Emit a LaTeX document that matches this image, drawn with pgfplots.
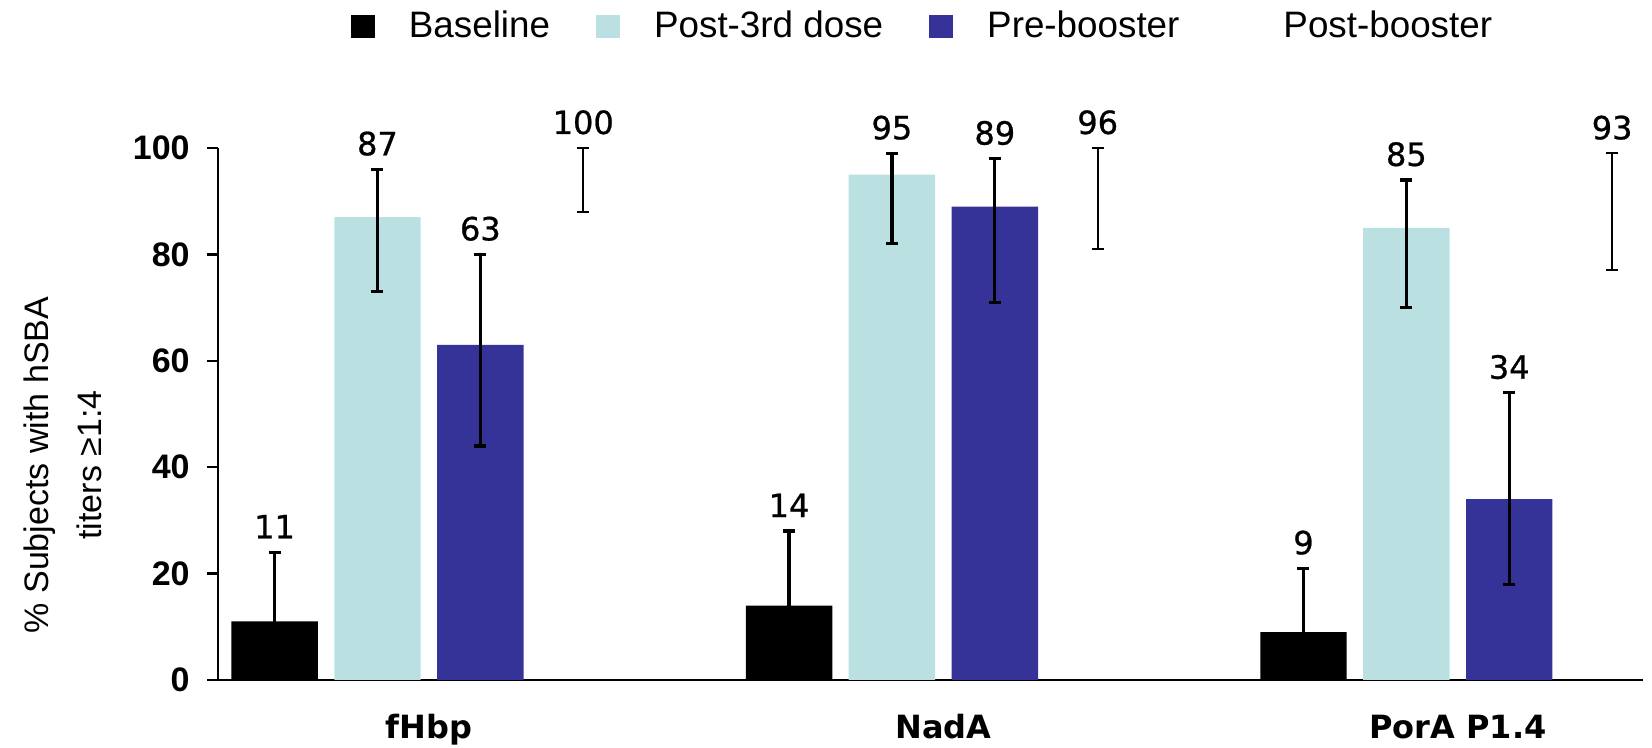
\documentclass[border=0pt]{standalone}
\usepackage{fontspec}
\setmainfont{Liberation Sans}
\newfontfamily\dejavu{DejaVu Sans}
\newfontfamily\dejavumid[FakeBold=0.8]{DejaVu Sans}
\usepackage{pgfplots}
\usepackage{pgfplotstable}
\pgfplotsset{compat=1.18}
\definecolor{lightc}{RGB}{186,224,226}
\definecolor{bluec}{RGB}{53,51,151}

\pgfplotstableread{
x y ep em
0 11 13 7
1 14 14 8
2 9 12 6
}\baselinetab
\pgfplotstableread{
x y ep em
0 87 9 14
1 95 4 13
2 85 9 15
}\postthird
\pgfplotstableread{
x y ep em
0 63 17 19
1 89 9 18
2 34 20 16
}\prebooster
\pgfplotstableread{
x y ep em
0 100 0 12
1 96 4 15
2 93 6 16
}\postbooster

\begin{document}
\begin{tikzpicture}
\begin{axis}[
  at={(0,0)}, anchor=south west,
  scale only axis, width=712.5pt, height=266pt,
  xmin=-0.41, xmax=2.36, ymin=0, ymax=100,
  enlargelimits=false, clip=false,
  axis x line=bottom, axis y line=left,
  axis line style={-, line width=1.2pt, black},
  xtick={0,1,2}, xticklabels={fHbp,NadA,PorA P1.4},
  x tick style={draw=none},
  ytick={0,20,40,60,80,100},
  y tick style={line width=1.2pt, black},
  tick align=outside, major tick length=5.5pt,
  /pgf/number format/assume math mode=true,
  yticklabel style={font=\fontsize{17}{17}\selectfont\bfseries, anchor=east, inner sep=0pt, xshift=-8.5pt},
  xticklabel style={font=\dejavu\bfseries\fontsize{16}{16}\selectfont, anchor=base, inner sep=0pt, yshift=-23.5pt},
  ylabel={\% Subjects with hSBA\\titers ≥1:4},
  ylabel style={at={(axis description cs:-0.1088,0.404)}, anchor=center, align=center, font=\fontsize{17}{26.5}\selectfont},
  bar width=0.168,
  legend columns=4,
  legend style={at={(axis description cs:0.4937,1.229)}, anchor=center, draw=none, fill=none,
    font=\fontsize{18.4}{18.4}\selectfont, nodes={inner sep=0pt},
    /tikz/every odd column/.append style={column sep=17pt},
    /tikz/every even column/.append style={column sep=23pt}},
  legend image code/.code={\path[#1, draw=none] (0pt,-5.75pt) rectangle (12pt,5.75pt);},
  every node near coord/.append style={font=\dejavumid\fontsize{16}{16}\selectfont, anchor=base, yshift=7pt, inner sep=0pt, black},
  error bars/error bar style={line width=1.6pt, black},
  error bars/error mark options={rotate=90, black, mark size=3pt, line width=1.6pt},
]
\addplot[ybar, bar shift=0pt, fill=black, draw=none,
  error bars/.cd, y dir=both, y explicit]
  table[x expr=\thisrow{x}-0.3, y=y, y error plus=ep, y error minus=em] {\baselinetab};
\addlegendentry{Baseline}
\addplot[ybar, bar shift=0pt, fill=lightc, draw=none,
  error bars/.cd, y dir=both, y explicit]
  table[x expr=\thisrow{x}-0.1, y=y, y error plus=ep, y error minus=em] {\postthird};
\addlegendentry{Post-3rd dose}
\addplot[ybar, bar shift=0pt, fill=bluec, draw=none,
  error bars/.cd, y dir=both, y explicit]
  table[x expr=\thisrow{x}+0.1, y=y, y error plus=ep, y error minus=em] {\prebooster};
\addlegendentry{Pre-booster}
\addplot[ybar, bar shift=0pt, fill=none, draw=none,
  error bars/.cd, y dir=both, y explicit,
  error bar style={line width=1pt, black},
  error mark options={rotate=90, black, mark size=3pt, line width=1pt}]
  table[x expr=\thisrow{x}+0.3, y=y, y error plus=ep, y error minus=em] {\postbooster};
\addlegendentry{Post-booster}

\addplot[draw=none, mark=none, nodes near coords, point meta=explicit, forget plot]
  table[x expr=\thisrow{x}-0.3, y expr=\thisrow{y}+\thisrow{ep}, meta=y] {\baselinetab};
\addplot[draw=none, mark=none, nodes near coords, point meta=explicit, forget plot]
  table[x expr=\thisrow{x}-0.1, y expr=\thisrow{y}+\thisrow{ep}, meta=y] {\postthird};
\addplot[draw=none, mark=none, nodes near coords, point meta=explicit, forget plot]
  table[x expr=\thisrow{x}+0.1, y expr=\thisrow{y}+\thisrow{ep}, meta=y] {\prebooster};
\addplot[draw=none, mark=none, nodes near coords, point meta=explicit, forget plot]
  table[x expr=\thisrow{x}+0.3, y expr=\thisrow{y}+\thisrow{ep}, meta=y] {\postbooster};
\end{axis}
\pgfresetboundingbox
\path (-109pt,-34pt) rectangle (717pt,340pt);
\end{tikzpicture}
\end{document}
